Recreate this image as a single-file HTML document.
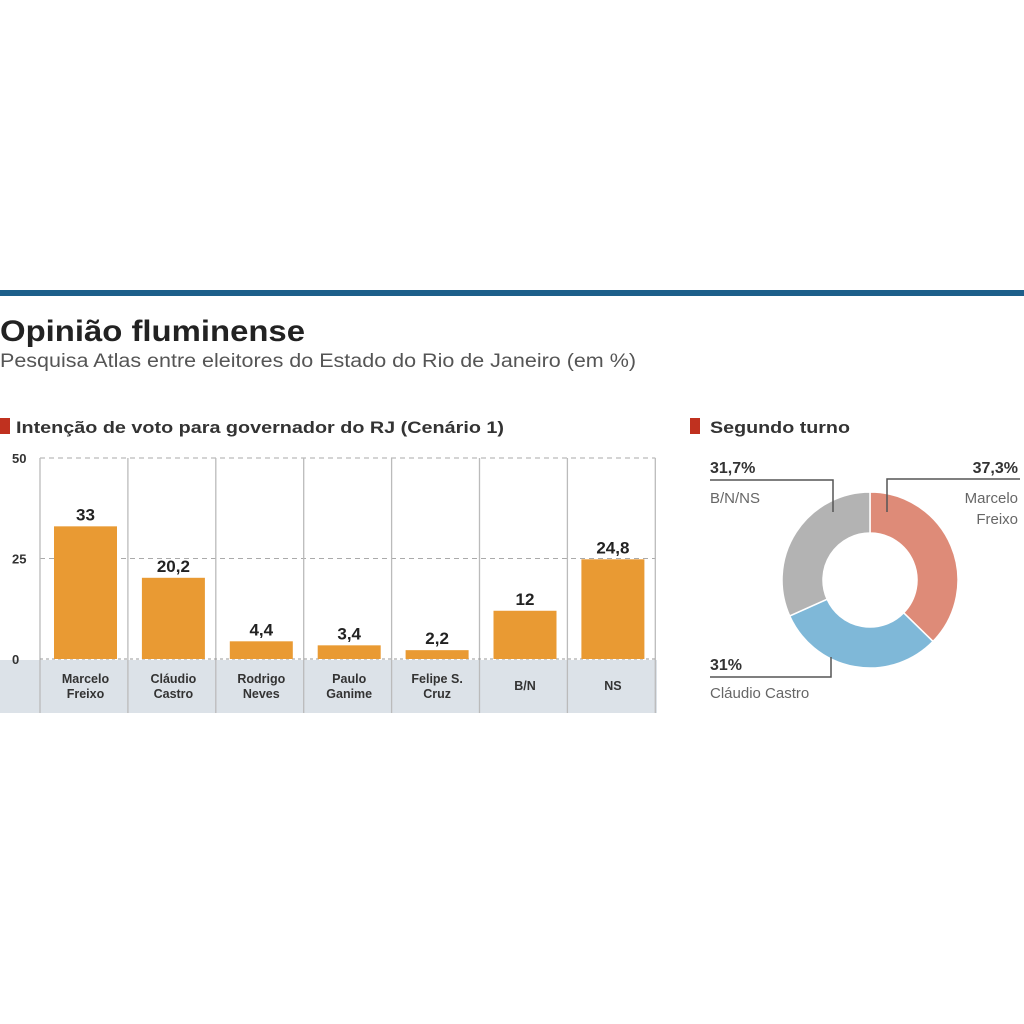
<!DOCTYPE html>
<html><head><meta charset="utf-8"><style>
body{margin:0;width:1024px;height:1024px;background:#fff;overflow:hidden;font-family:"Liberation Sans",sans-serif}
svg{position:absolute;left:0;top:0}
</style></head><body>
<svg width="1024" height="1024">
<rect x="0" y="290" width="1024" height="6" fill="#1d5f8a"/>
<text x="0" y="341" font-size="30" font-weight="bold" fill="#222" textLength="305" lengthAdjust="spacingAndGlyphs">Opinião fluminense</text>
<text x="0" y="367" font-size="19" fill="#555" textLength="636" lengthAdjust="spacingAndGlyphs">Pesquisa Atlas entre eleitores do Estado do Rio de Janeiro (em %)</text>
<rect x="0" y="418" width="10" height="16" fill="#c0311f"/>
<text x="16" y="433" font-size="17" font-weight="bold" fill="#333" textLength="488" lengthAdjust="spacingAndGlyphs">Intenção de voto para governador do RJ (Cenário 1)</text>
<rect x="690" y="418" width="10" height="16" fill="#c0311f"/>
<text x="710" y="433" font-size="17" font-weight="bold" fill="#333" textLength="140" lengthAdjust="spacingAndGlyphs">Segundo turno</text>
<g id="bars"></g>
<g id="donut"></g>
</svg>
<script>
const categories=["Marcelo|Freixo","Cláudio|Castro","Rodrigo|Neves","Paulo|Ganime","Felipe S.|Cruz","B/N","NS"];
const values=[33,20.2,4.4,3.4,2.2,12,24.8];
const valueLabels=["33","20,2","4,4","3,4","2,2","12","24,8"];
const yTicks=[0,25,50];
const donutNames=["Marcelo Freixo","Cláudio Castro","B/N/NS"];
const donutValues=[37.3,31,31.7];
const donutLabels=["37,3%","31%","31,7%"];
const NS="http://www.w3.org/2000/svg";
function mk(p,t,a,txt){const e=document.createElementNS(NS,t);for(const k in a)e.setAttribute(k,a[k]);if(txt!=null)e.textContent=txt;p.appendChild(e);return e;}
const g=document.getElementById('bars');
const x0=40,cw=87.9,y=v=>659-v*(201/50);
mk(g,'rect',{x:0,y:660,width:657,height:53,fill:'#dce2e8'});
yTicks.forEach(t=>{
 const tl=mk(g,'text',{x:12,y:y(t)+5,'font-size':13,'font-weight':'bold',fill:'#333'},String(t));
 
 
 if(t>0){const l=mk(g,'line',{x1:x0,x2:x0+cw*7,y1:y(t),y2:y(t),stroke:'#aaa','stroke-dasharray':'5,4'});
 
 }
});
for(let i=0;i<=7;i++){const xx=x0+i*cw;mk(g,'line',{x1:xx,x2:xx,y1:458,y2:713,stroke:'#bbb','stroke-width':1.3});}
mk(g,'line',{x1:x0,x2:x0+cw*7,y1:659,y2:659,stroke:'#999','stroke-dasharray':'3,3'});
categories.forEach((c,i)=>{
 const bx=x0+i*cw+14;
 const r=mk(g,'rect',{x:bx,y:y(values[i]),width:63,height:659-y(values[i]),fill:'#e99a33'});
 
 
 const vl=mk(g,'text',{x:bx+31.5,y:y(values[i])-6,'font-size':17,'font-weight':'bold',fill:'#222','text-anchor':'middle'},valueLabels[i]);
 
 
 const parts=c.split('|');
 parts.forEach((p,j)=>{
  const cy=parts.length==1?690:683+j*15;
  const t=mk(g,'text',{x:bx+31.5,y:cy,'font-size':12.5,'font-weight':'bold',fill:'#333','text-anchor':'middle'},p);
  
  
 });
});
const d=document.getElementById('donut');
const cx=870,cy=580,R=88,r0=47,cols=['#de8b78','#7fb8d8','#b3b3b3'];
const tot=donutValues.reduce((a,b)=>a+b,0);let a=-Math.PI/2;
donutValues.forEach((v,i)=>{
 const a2=a+v/tot*2*Math.PI,lg=(a2-a)>Math.PI?1:0;
 const p=(rr,an)=>[cx+rr*Math.cos(an),cy+rr*Math.sin(an)];
 const [x1,y1]=p(R,a),[x2,y2]=p(R,a2),[x3,y3]=p(r0,a2),[x4,y4]=p(r0,a);
 const s=mk(d,'path',{d:`M${x1},${y1}A${R},${R} 0 ${lg} 1 ${x2},${y2}L${x3},${y3}A${r0},${r0} 0 ${lg} 0 ${x4},${y4}Z`,fill:cols[i],stroke:'#fff','stroke-width':1.5});
 
 
 a=a2;
});
const ln={stroke:'#555','stroke-width':1.5,fill:'none'};
mk(d,'polyline',Object.assign({points:'1020,479 887,479 887,512'},ln));
mk(d,'polyline',Object.assign({points:'710,480 833,480 833,512'},ln));
mk(d,'polyline',Object.assign({points:'710,677 831,677 831,657'},ln));
const lab=[[1018,473,'end',donutLabels[0],true],[1018,503,'end','Marcelo',false],[1018,524,'end','Freixo',false],
[710,473,'start',donutLabels[2],true],[710,503,'start',donutNames[2],false],
[710,670,'start',donutLabels[1],true],[710,698,'start',donutNames[1],false]];
lab.forEach(l=>{const t=mk(d,'text',{x:l[0],y:l[1],'text-anchor':l[2],'font-size':l[4]?16:15,'font-weight':l[4]?'bold':'normal',fill:l[4]?'#333':'#666'},l[3]);
 
 });
</script>
</body></html>
